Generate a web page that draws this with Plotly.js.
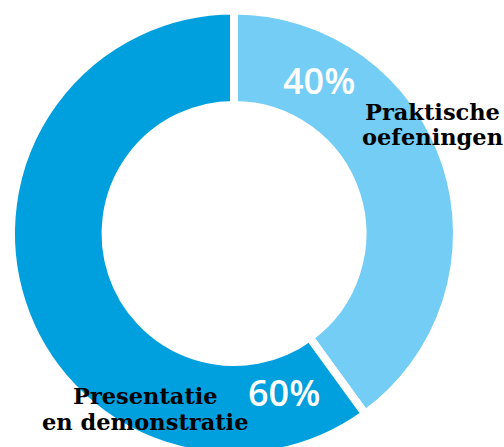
<!DOCTYPE html>
<html>
<head>
<meta charset="utf-8">
<script src="https://cdn.plot.ly/plotly-3.0.1.min.js"></script>
<style>
html,body{margin:0;padding:0;overflow:hidden;background:#fff;}
#chart{width:504px;height:468px;}
</style>
</head>
<body>
<div id="chart"></div>
<script>
// Data
var labelLines = [["Praktische", "oefeningen"], ["Presentatie", "en demonstratie"]];
var labels = labelLines.map(function (l) { return l.join(" "); });
var values = [40, 60];
var colors = ["#73CDF4", "#009FDD"];

// Layout helpers (pixel -> paper)
var W = 504, H = 468;
function px(x) { return x / W; }
function py(y) { return (H - y) / H; }

var R = 223, cx = 234, cy = 233.5;

var trace = {
  type: "pie",
  labels: labels,
  values: values,
  sort: false,
  direction: "clockwise",
  rotation: 0,
  hole: 0.576,
  textinfo: "none",
  hoverinfo: "none",
  marker: { colors: colors, line: { color: "#ffffff", width: 8 } },
  domain: { x: [px(cx - R), px(cx + R)], y: [py(cy + R), py(cy - R)] }
};

// label placement (layout positions)
var pctPos = [[319, 80.4], [284, 392.5]];
var labelPos = [[432, [111.7, 136.7]], [145, [395.7, 421.7]]];

var annotations = [];
values.forEach(function (v, i) {
  annotations.push({
    xref: "paper", yref: "paper",
    x: px(pctPos[i][0]), y: py(pctPos[i][1]),
    xanchor: "center", yanchor: "middle",
    text: v + "%", showarrow: false,
    font: { family: "Open Sans", size: 36, color: "#ffffff", weight: 600 }
  });
  labelLines[i].forEach(function (line, j) {
    annotations.push({
      xref: "paper", yref: "paper",
      x: px(labelPos[i][0]), y: py(labelPos[i][1][j]),
      xanchor: "center", yanchor: "middle",
      text: line, showarrow: false, borderpad: 0,
      font: { family: "DejaVu Serif", size: 22.5, color: "#000000", weight: 700 }
    });
  });
});

var layout = {
  width: W, height: H,
  margin: { l: 0, r: 0, t: 0, b: 0 },
  paper_bgcolor: "#ffffff",
  showlegend: false,
  annotations: annotations
};

Plotly.newPlot("chart", [trace], layout, { staticPlot: true });
</script>
</body>
</html>
